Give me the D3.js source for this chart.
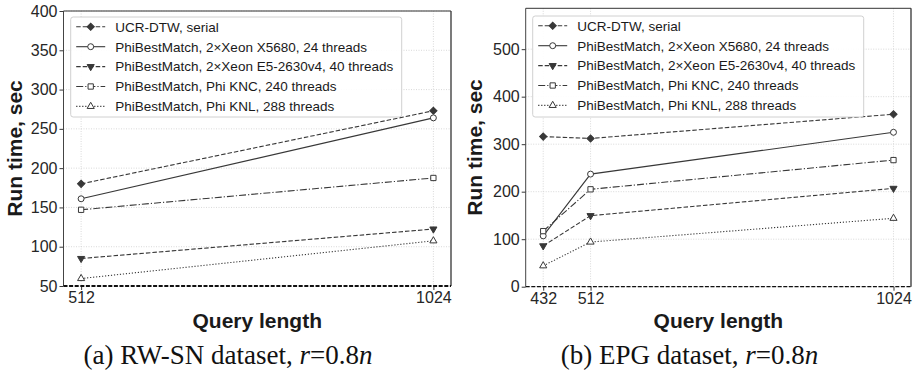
<!DOCTYPE html>
<html><head><meta charset="utf-8">
<script src="https://cdn.jsdelivr.net/npm/d3@7"></script>
<style>
html,body{margin:0;padding:0;background:#fff;}
svg{display:block;}
</style>
</head><body>
<svg id="c" width="921" height="377"></svg>
<script>
// ---- data ----
const seriesNames = [
  "UCR-DTW, serial",
  "PhiBestMatch, 2×Xeon X5680, 24 threads",
  "PhiBestMatch, 2×Xeon E5-2630v4, 40 threads",
  "PhiBestMatch, Phi KNC, 240 threads",
  "PhiBestMatch, Phi KNL, 288 threads"
];
const xLeft = [512, 1024];
const leftUCR   = [180, 273];
const leftX5680 = [161, 264];
const leftE5    = [85, 122.5];
const leftKNC   = [147, 187.5];
const leftKNL   = [59.5, 107.5];
const yTicksLeft = [50, 100, 150, 200, 250, 300, 350, 400];

const xRight = [432, 512, 1024];
const rightUCR   = [316, 312, 363];
const rightX5680 = [107, 237, 325];
const rightE5    = [86, 149.5, 207];
const rightKNC   = [117, 205, 266.5];
const rightKNL   = [44, 94, 144];
const yTicksRight = [0, 100, 200, 300, 400, 500];

const captionLeft = ["(a) RW-SN dataset, ", "r", "=0.8", "n"];
const captionRight = ["(b) EPG dataset, ", "r", "=0.8", "n"];

// ---- styles ----
const INK = "#383838";
const styles = [
  {dash: "4.5,2", marker: "diamond", fill: INK},
  {dash: null, marker: "circle", fill: "#fff"},
  {dash: "4.5,2", marker: "tridown", fill: INK},
  {dash: "7,2,1.2,2", marker: "square", fill: "#fff"},
  {dash: "1.2,1.8", marker: "triup", fill: "#fff"}
];
const SANS = "'Liberation Sans', Arial, sans-serif";
const svg = d3.select("#c");

function markerPath(type) {
  if (type === "circle") return d3.symbol(d3.symbolCircle, 28)();
  if (type === "square") return d3.symbol(d3.symbolSquare, 28)();
  if (type === "diamond") return d3.symbol(d3.symbolSquare, 26)();
  if (type === "triup" || type === "tridown") return d3.symbol(d3.symbolTriangle, 22)();
}
function markerRot(type) {
  if (type === "diamond") return 45;
  if (type === "tridown") return 180;
  return 0;
}
function drawMarker(g, x, y, st) {
  g.append("path").attr("d", markerPath(st.marker))
    .attr("transform", `translate(${x},${y}) rotate(${markerRot(st.marker)})`)
    .attr("fill", st.fill).attr("stroke", INK).attr("stroke-width", 1);
}

function panel(cfg) {
  const g = svg.append("g");
  const x = d3.scaleLinear().domain(cfg.xDomain).range([cfg.x0, cfg.x1]);
  const y = d3.scaleLinear().domain(cfg.yDomain).range([cfg.y1, cfg.y0]);

  // grid
  g.append("g").selectAll("line").data(cfg.yTicks).join("line")
    .attr("x1", cfg.x0).attr("x2", cfg.x1)
    .attr("y1", d => y(d)).attr("y2", d => y(d))
    .attr("stroke", "#cfcfcf").attr("stroke-width", 0.8).attr("stroke-dasharray", "1,1.5");
  g.append("g").selectAll("line").data(cfg.xs).join("line")
    .attr("x1", d => x(d)).attr("x2", d => x(d))
    .attr("y1", cfg.y0).attr("y2", cfg.y1)
    .attr("stroke", "#cfcfcf").attr("stroke-width", 0.8).attr("stroke-dasharray", "1,1.5");

  // axes
  const ya = g.append("g").attr("transform", `translate(${cfg.x0},0)`)
    .call(d3.axisLeft(y).tickValues(cfg.yTicks).tickSize(4).tickPadding(2));
  const xa = g.append("g").attr("transform", `translate(0,${cfg.y1})`)
    .call(d3.axisBottom(x).tickValues(cfg.xs).tickFormat(d3.format("d")).tickSize(4).tickPadding(2));
  [ya, xa].forEach(a => {
    a.select(".domain").remove();
    a.selectAll("line").attr("stroke", INK);
    a.selectAll("text").attr("font-family", SANS).attr("font-size", 16).attr("fill", "#262626");
  });

  // frame
  g.append("line").attr("x1", cfg.x0).attr("x2", cfg.x0).attr("y1", cfg.y0).attr("y2", cfg.y1)
    .attr("stroke", "#444").attr("stroke-width", 1);
  g.append("line").attr("x1", cfg.x1).attr("x2", cfg.x1).attr("y1", cfg.y0).attr("y2", cfg.y1)
    .attr("stroke", "#222").attr("stroke-width", 1.2);
  g.append("line").attr("x1", cfg.x0).attr("x2", cfg.x1).attr("y1", cfg.y0).attr("y2", cfg.y0)
    .attr("stroke", "#333").attr("stroke-width", 1);
  g.append("line").attr("x1", cfg.x0).attr("x2", cfg.x1).attr("y1", cfg.y1).attr("y2", cfg.y1)
    .attr("stroke", "#111").attr("stroke-width", cfg.bottomW).attr("stroke-dasharray", "4,1.6");

  // series
  const line = d3.line().x((d, i) => x(cfg.xs[i])).y(d => y(d));
  cfg.series.forEach((vals, si) => {
    const st = styles[si];
    g.append("path").attr("d", line(vals)).attr("fill", "none")
      .attr("stroke", INK).attr("stroke-width", 1.1)
      .attr("stroke-dasharray", st.dash);
  });
  cfg.series.forEach((vals, si) => {
    vals.forEach((v, i) => drawMarker(g, x(cfg.xs[i]), y(v), styles[si]));
  });

  // legend
  const L = cfg.legend;
  g.append("rect").attr("x", L.x).attr("y", L.y).attr("width", L.w).attr("height", L.h)
    .attr("rx", 2.5).attr("fill", "#fff").attr("fill-opacity", 0.9)
    .attr("stroke", "#d0d0d0").attr("stroke-width", 1);
  seriesNames.forEach((name, i) => {
    const cy = L.y + 9.8 + i * 19.9;
    const st = styles[i];
    g.append("line").attr("x1", L.x + 5.5).attr("x2", L.x + 34.5).attr("y1", cy).attr("y2", cy)
      .attr("stroke", INK).attr("stroke-width", 1.1).attr("stroke-dasharray", st.dash);
    drawMarker(g, L.x + 20, cy, st);
    g.append("text").attr("x", L.x + 44.5).attr("y", cy + 4.8)
      .attr("font-family", SANS).attr("font-size", 13.5).attr("fill", "#1a1a1a").text(name);
  });

  // axis labels
  g.append("text").attr("transform", `translate(${cfg.ylabX},${(cfg.y0 + cfg.y1) / 2}) rotate(-90)`)
    .attr("text-anchor", "middle").attr("font-family", SANS).attr("font-weight", "bold")
    .attr("font-size", 21).attr("fill", "#1a1a1a").text("Run time, sec");
  g.append("text").attr("x", (cfg.x0 + cfg.x1) / 2).attr("y", 327.5)
    .attr("text-anchor", "middle").attr("font-family", SANS).attr("font-weight", "bold")
    .attr("font-size", 21).attr("fill", "#1a1a1a").text("Query length");

  // caption
  const cap = g.append("text").attr("x", cfg.capX).attr("y", 364)
    .attr("text-anchor", "middle").attr("font-family", "'Liberation Serif', 'Times New Roman', serif")
    .attr("font-size", 27).attr("fill", "#111");
  cfg.caption.forEach((t, i) => {
    cap.append("tspan").attr("font-style", (i === 1 || i === 3) ? "italic" : "normal").text(t);
  });
}

panel({
  x0: 63.5, x1: 451, y0: 11, y1: 286,
  xDomain: [512 - 25.6, 1024 + 25.6], yDomain: [50, 400],
  xs: xLeft, yTicks: yTicksLeft,
  series: [leftUCR, leftX5680, leftE5, leftKNC, leftKNL],
  legend: {x: 70.7, y: 17, w: 331, h: 100},
  ylabX: 22, capX: 228, caption: captionLeft, bottomW: 2
});
panel({
  x0: 525.7, x1: 911, y0: 8.3, y1: 286.7,
  xDomain: [432 - 29.6, 1024 + 29.6], yDomain: [0, 586],
  xs: xRight, yTicks: yTicksRight,
  series: [rightUCR, rightX5680, rightE5, rightKNC, rightKNL],
  legend: {x: 532.7, y: 16, w: 331, h: 101},
  ylabX: 482, capX: 689.5, caption: captionRight, bottomW: 1.2
});
</script>
</body></html>
